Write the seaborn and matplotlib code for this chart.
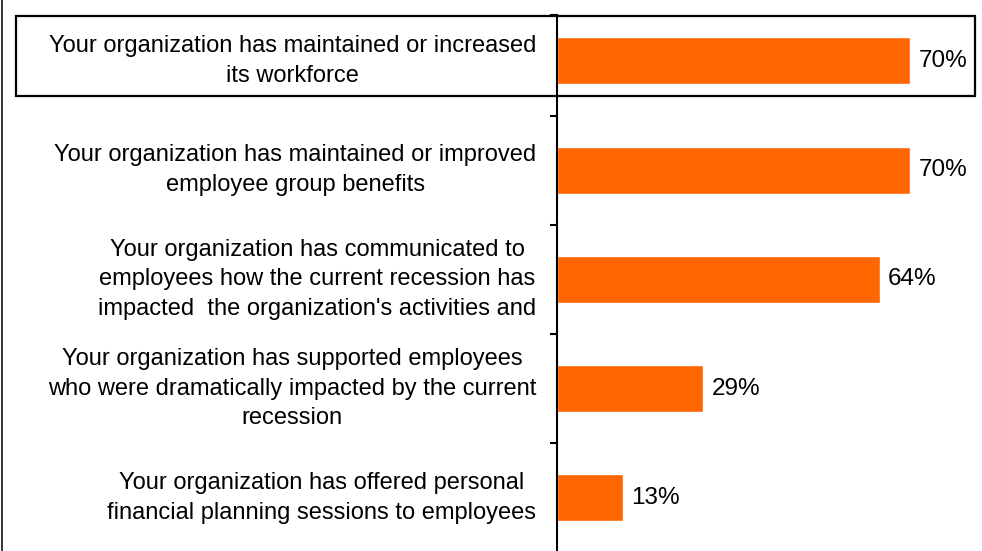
import pandas as pd
import matplotlib.pyplot as plt
import matplotlib.patches as patches
from matplotlib.lines import Line2D
import seaborn as sns

# --- data ---
items = [
    "Your organization has maintained or increased\nits workforce",
    "Your organization has maintained or improved\nemployee group benefits",
    "Your organization has communicated to\nemployees how the current recession has\nimpacted  the organization's activities and",
    "Your organization has supported employees\nwho were dramatically impacted by the current\nrecession",
    "Your organization has offered personal\nfinancial planning sessions to employees",
]
pct = [70, 70, 64, 29, 13]

BAR_COLOR = "#FF6600"

sns.set_theme(style="white")
plt.rcParams['font.family'] = ['Liberation Sans', 'DejaVu Sans']

W, H = 982, 551
fig = plt.figure(figsize=(W / 100, H / 100), dpi=100)
ax = fig.add_axes([557 / W, 0, (W - 557) / W, 1 - 15 / H])

df = pd.DataFrame({'item': items, 'pct': pct})
sns.barplot(data=df, x='pct', y='item', color=BAR_COLOR, saturation=1,
            width=0.43, ax=ax, orient='h')

ax.set_xlim(0, (W - 557) / 5.043)
ax.set_ylim(4.486, -0.42)
ax.set_xlabel("")
ax.set_ylabel("")
ax.set_xticks([])

for s in ['top', 'right', 'bottom']:
    ax.spines[s].set_visible(False)
ax.spines['left'].set_color('black')
ax.spines['left'].set_linewidth(1.5)

# category labels centred, boundary ticks as minor ticks
ax.set_yticks(range(len(items)))
ax.set_yticklabels(items, fontsize=17, color='black', multialignment='center',
                   linespacing=1.45, va='center')
ax.set_yticks([-0.42, 0.5, 1.5, 2.5, 3.5], minor=True)
ax.tick_params(axis='y', which='major', length=0, pad=15)
ax.tick_params(axis='y', which='minor', left=True, direction='out', length=5,
               width=1.5, color='black')

for cont in ax.containers:
    ax.bar_label(cont, labels=[f"{v}%" for v in pct], padding=6,
                 fontsize=17.5, color='black')

# box around the first label and the left border line
fig.patches.append(patches.Rectangle((16 / W, 1 - 96 / H), (975 - 16) / W, 80 / H,
                                     transform=fig.transFigure, fill=False,
                                     edgecolor='black', linewidth=1.6, zorder=5))
fig.lines.append(Line2D([2 / W, 2 / W], [0, 1], transform=fig.transFigure,
                        color='#333333', linewidth=1.4))

fig.savefig("out.png", dpi=100)
